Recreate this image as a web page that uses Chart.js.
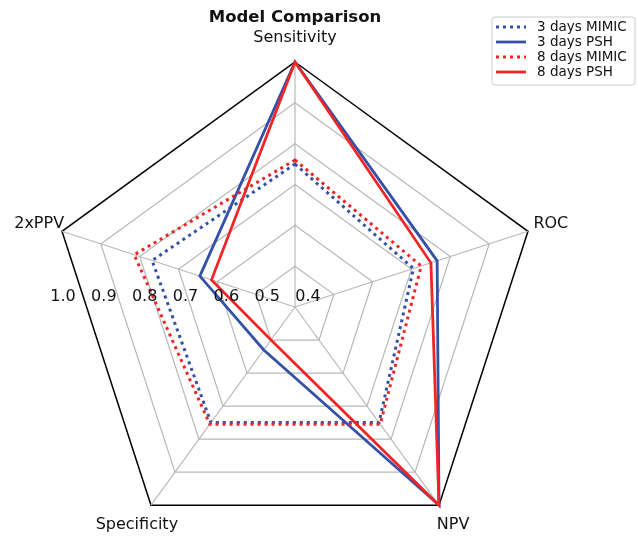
<!DOCTYPE html>
<html>
<head>
<meta charset="utf-8">
<script src="https://cdn.jsdelivr.net/npm/chart.js@4.4.1/dist/chart.umd.min.js"></script>
<style>
  html, body { margin: 0; padding: 0; background: #fff; }
  #wrap { width: 638px; height: 537px; }
</style>
</head>
<body>
<div id="wrap"><canvas id="radar" width="638" height="537"></canvas></div>
<script>
// Axes of the radar, clockwise from the top
const metrics = ['Sensitivity', 'ROC', 'NPV', 'Specificity', '2xPPV'];
const radialTicks = [0.4, 0.5, 0.6, 0.7, 0.8, 0.9, 1.0];

// Values
const mimic3 = [0.75, 0.705, 0.75, 0.75, 0.768];
const psh3   = [1.0, 0.766, 1.0, 0.53, 0.645];
const mimic8 = [0.76, 0.725, 0.755, 0.755, 0.814];
const psh8   = [1.0, 0.75, 1.0, 0.50, 0.615];

const BLUE = '#3550a8';
const RED = '#f02525';
const FONT = 'DejaVu Sans';
const DOTS = [3, 4];

// Labels round the web, tick values along the left, and the boxed legend
const decorPlugin = {
    id: 'decor',
    afterDraw(chart) {
        const ctx = chart.ctx;
        const r = chart.scales.r;

        ctx.save();
        ctx.fillStyle = '#111';
        ctx.textAlign = 'center';
        ctx.textBaseline = 'middle';

        // axis names
        ctx.font = `16px "${FONT}"`;
        chart.data.labels.forEach((lab, i) => {
            const p = r.getPointPosition(i, r.drawingArea + 24);
            ctx.fillText(lab, p.x, p.y);
        });

        // radial tick labels, laid out horizontally left of centre
        radialTicks.forEach(v => {
            const d = r.getDistanceFromCenterForValue(v);
            ctx.fillText(v.toFixed(1), r.xCenter - d + 13, r.yCenter - 10);
        });

        // legend
        const bx = 492, by = 17, bw = 143, bh = 68;
        ctx.beginPath();
        ctx.roundRect(bx, by, bw, bh, 3);
        ctx.fillStyle = 'rgba(255,255,255,0.85)';
        ctx.fill();
        ctx.strokeStyle = '#cccccc';
        ctx.lineWidth = 1;
        ctx.stroke();

        ctx.font = `13.5px "${FONT}"`;
        ctx.textAlign = 'left';
        chart.data.datasets.forEach((ds, i) => {
            const y = by + 10 + i * 15;
            ctx.beginPath();
            ctx.setLineDash(ds.borderDash || []);
            ctx.strokeStyle = ds.borderColor;
            ctx.lineWidth = ds.borderWidth;
            ctx.moveTo(bx + 4, y);
            ctx.lineTo(bx + 34, y);
            ctx.stroke();
            ctx.setLineDash([]);
            ctx.fillStyle = '#111';
            ctx.fillText(ds.label, bx + 45, y + 0.5);
        });
        ctx.restore();
    }
};

new Chart(document.getElementById('radar'), {
    type: 'radar',
    data: {
        labels: metrics,
        datasets: [
            { label: '3 days MIMIC', data: mimic3, borderColor: BLUE, borderDash: DOTS, borderWidth: 3, order: 4 },
            { label: '3 days PSH',   data: psh3,   borderColor: BLUE, borderWidth: 2.8, order: 3 },
            { label: '8 days MIMIC', data: mimic8, borderColor: RED,  borderDash: DOTS, borderWidth: 3, order: 2 },
            { label: '8 days PSH',   data: psh8,   borderColor: RED,  borderWidth: 2.8, order: 1 }
        ]
    },
    options: {
        responsive: false,
        animation: false,
        layout: { padding: { left: 0, right: 48 } }, // keeps the title centred over the web
        elements: {
            line: { fill: false, tension: 0, borderCapStyle: 'butt', borderJoinStyle: 'miter' },
            point: { radius: 0, hoverRadius: 0 }
        },
        plugins: {
            legend: { display: false },
            tooltip: { enabled: false },
            title: {
                display: true,
                text: 'Model Comparison',
                color: '#111',
                font: { family: FONT, size: 16.5, weight: 'bold' },
                padding: { top: 8, bottom: 0 }
            }
        },
        scales: {
            r: {
                min: 0.4,
                max: 1.0,
                ticks: { stepSize: 0.1, display: false },
                pointLabels: { display: false },
                grid: {
                    color: c => (c.index === radialTicks.length - 1 ? '#000' : '#b8b8b8'),
                    lineWidth: c => (c.index === radialTicks.length - 1 ? 1.5 : 1.2)
                },
                angleLines: { color: '#b8b8b8', lineWidth: 1.2 },
                // place the web where the original figure has it
                afterFit(scale) {
                    scale.xCenter = 295;
                    scale.yCenter = 307;
                    scale.drawingArea = 245;
                }
            }
        }
    },
    plugins: [decorPlugin]
});
</script>
</body>
</html>
